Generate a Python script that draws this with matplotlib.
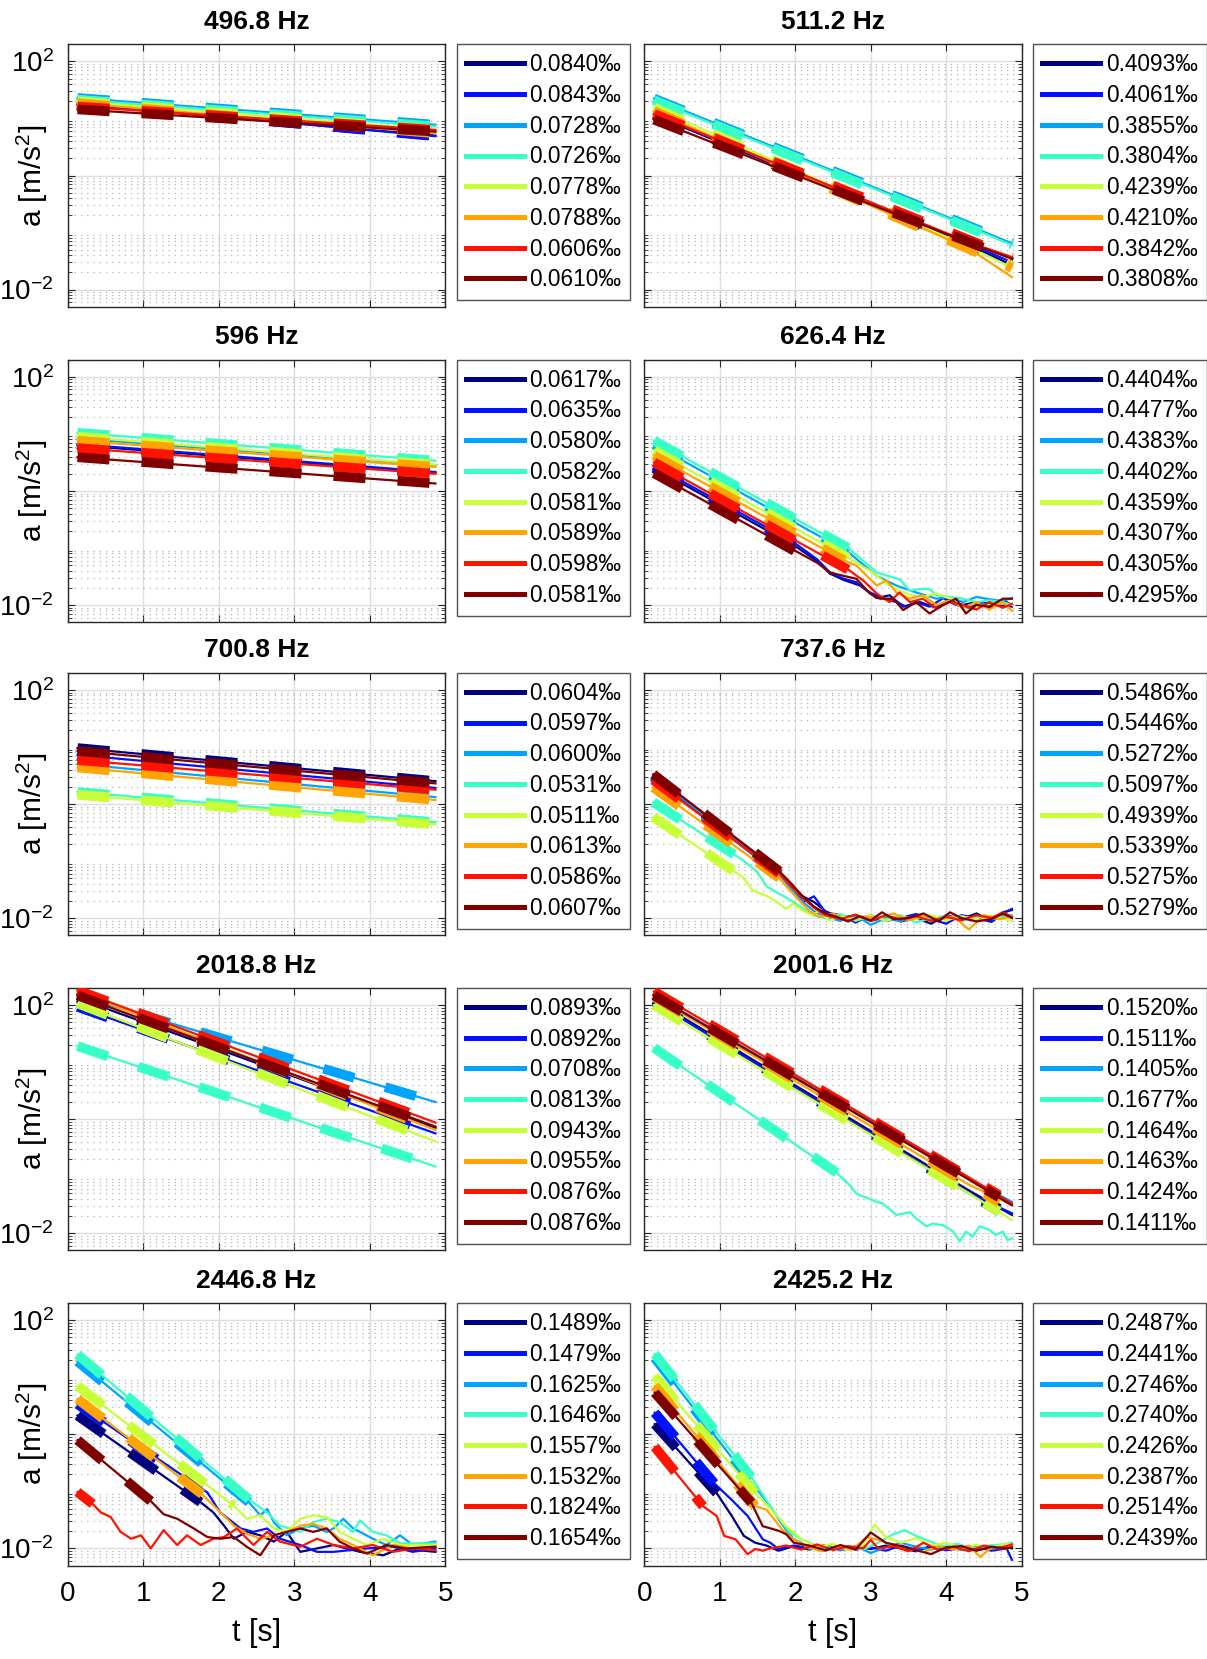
import numpy as np
import matplotlib
matplotlib.use('Agg')
import matplotlib.pyplot as plt
from matplotlib.lines import Line2D
from matplotlib.ticker import LogLocator, NullFormatter

plt.rcParams['font.family'] = ['Liberation Sans', 'DejaVu Sans']
plt.rcParams['mathtext.fontset'] = 'custom'
plt.rcParams['mathtext.rm'] = 'Liberation Sans'
plt.rcParams['mathtext.it'] = 'Liberation Sans:italic'
plt.rcParams['mathtext.bf'] = 'Liberation Sans:bold'

# ---------------- data (amplitudes stored as log10(a), a in m/s^2) ----------------
# series order in every panel: navy, blue, light blue, aqua, yellow, orange, red, dark red
titles = ['496.8 Hz', '511.2 Hz', '596 Hz', '626.4 Hz', '700.8 Hz',
          '737.6 Hz', '2018.8 Hz', '2001.6 Hz', '2446.8 Hz', '2425.2 Hz']

lab_4968 = ['0.0840‰', '0.0843‰', '0.0728‰', '0.0726‰', '0.0778‰', '0.0788‰', '0.0606‰', '0.0610‰']
lab_5112 = ['0.4093‰', '0.4061‰', '0.3855‰', '0.3804‰', '0.4239‰', '0.4210‰', '0.3842‰', '0.3808‰']
lab_596 = ['0.0617‰', '0.0635‰', '0.0580‰', '0.0582‰', '0.0581‰', '0.0589‰', '0.0598‰', '0.0581‰']
lab_6264 = ['0.4404‰', '0.4477‰', '0.4383‰', '0.4402‰', '0.4359‰', '0.4307‰', '0.4305‰', '0.4295‰']
lab_7008 = ['0.0604‰', '0.0597‰', '0.0600‰', '0.0531‰', '0.0511‰', '0.0613‰', '0.0586‰', '0.0607‰']
lab_7376 = ['0.5486‰', '0.5446‰', '0.5272‰', '0.5097‰', '0.4939‰', '0.5339‰', '0.5275‰', '0.5279‰']
lab_20188 = ['0.0893‰', '0.0892‰', '0.0708‰', '0.0813‰', '0.0943‰', '0.0955‰', '0.0876‰', '0.0876‰']
lab_20016 = ['0.1520‰', '0.1511‰', '0.1405‰', '0.1677‰', '0.1464‰', '0.1463‰', '0.1424‰', '0.1411‰']
lab_24468 = ['0.1489‰', '0.1479‰', '0.1625‰', '0.1646‰', '0.1557‰', '0.1532‰', '0.1824‰', '0.1654‰']
lab_24252 = ['0.2487‰', '0.2441‰', '0.2746‰', '0.2740‰', '0.2426‰', '0.2387‰', '0.2514‰', '0.2439‰']

# 496.8 Hz
t_4968 = [[0.13, 4.87]] * 8
lg_4968 = [[1.25, 0.70], [1.26, 0.69], [1.36, 0.89], [1.33, 0.86],
           [1.30, 0.80], [1.27, 0.74], [1.21, 0.80], [1.16, 0.77]]
fit_t_4968 = [4.87] * 8
fit_lg_4968 = [0.70, 0.69, 0.89, 0.86, 0.80, 0.74, 0.80, 0.77]

# 511.2 Hz
t_5112 = [[0.13, 4.3, 4.87]] * 8
lg_5112 = [[1.06, -1.22, -1.57], [1.08, -1.20, -1.52], [1.35, -0.88, -1.19], [1.32, -0.90, -1.22],
           [1.19, -1.25, -1.62], [1.13, -1.28, -1.78], [1.08, -1.17, -1.43], [0.98, -1.18, -1.46]]
fit_t_5112 = [4.87] * 8
fit_lg_5112 = [-1.53, -1.51, -1.19, -1.22, -1.58, -1.62, -1.43, -1.46]

# 596 Hz
t_596 = [[0.13, 4.87]] * 8
lg_596 = [[0.80, 0.32], [0.82, 0.33], [0.92, 0.45], [1.02, 0.53],
          [0.95, 0.46], [0.88, 0.42], [0.75, 0.30], [0.59, 0.13]]
fit_t_596 = [4.87] * 8
fit_lg_596 = [0.32, 0.33, 0.45, 0.53, 0.46, 0.42, 0.30, 0.13]

# 626.4 Hz
t_6264 = [
    [0.13, 1.98, 2.29, 2.46, 2.64, 2.86, 3.08, 3.25, 3.43, 3.65, 3.87, 4.04, 4.22, 4.40, 4.57, 4.75, 4.87],
    [0.13, 1.98, 2.29, 2.46, 2.64, 2.81, 2.99, 3.16, 3.34, 3.47, 3.60, 3.78, 3.96, 4.13, 4.31, 4.48, 4.66, 4.87],
    [0.13, 2.70, 3.08, 3.34, 3.60, 3.87, 4.04, 4.22, 4.40, 4.57, 4.75, 4.87],
    [0.13, 2.70, 3.08, 3.38, 3.52, 3.65, 3.78, 3.87, 4.04, 4.22, 4.40, 4.57, 4.75, 4.87],
    [0.13, 2.70, 2.99, 3.25, 3.52, 3.69, 3.87, 4.13, 4.26, 4.40, 4.57, 4.75, 4.87],
    [0.13, 2.65, 2.81, 3.08, 3.21, 3.34, 3.52, 3.69, 3.87, 4.04, 4.22, 4.40, 4.57, 4.75, 4.87],
    [0.13, 2.70, 2.90, 3.08, 3.25, 3.38, 3.52, 3.69, 3.87, 4.04, 4.22, 4.40, 4.57, 4.75, 4.87],
    [0.13, 2.11, 2.29, 2.46, 2.64, 2.81, 2.99, 3.12, 3.30, 3.43, 3.60, 3.78, 3.96, 4.13, 4.26, 4.40, 4.57, 4.75, 4.87],
]
lg_6264 = [
    [0.40, -0.95, -1.23, -1.45, -1.56, -1.66, -1.88, -1.83, -2.03, -1.95, -2.05, -1.90, -2.00, -1.95, -2.05, -1.92, -2.00],
    [0.44, -0.90, -1.20, -1.43, -1.54, -1.60, -1.78, -1.88, -1.95, -2.03, -1.95, -2.03, -1.88, -2.00, -2.05, -1.95, -2.00, -2.03],
    [0.81, -1.07, -1.49, -1.66, -1.78, -1.89, -1.86, -1.95, -1.86, -1.90, -1.93, -1.88],
    [0.88, -1.00, -1.43, -1.55, -1.75, -1.72, -1.72, -1.83, -1.86, -1.89, -1.95, -1.92, -1.95, -2.00],
    [0.71, -1.17, -1.40, -1.66, -1.83, -1.86, -1.80, -1.92, -2.12, -2.03, -2.00, -1.97, -2.00],
    [0.62, -1.22, -1.31, -1.66, -1.57, -1.78, -1.89, -1.83, -2.00, -1.92, -2.05, -1.95, -2.08, -1.95, -2.10],
    [0.50, -1.38, -1.57, -1.80, -1.95, -1.78, -1.95, -1.89, -2.06, -1.95, -2.00, -2.08, -1.95, -2.05, -1.98],
    [0.31, -1.13, -1.26, -1.43, -1.49, -1.54, -1.80, -1.89, -1.89, -2.09, -1.95, -2.15, -2.00, -1.89, -2.15, -2.00, -2.03, -1.89, -1.89],
]
fit_t_6264 = [2.2, 2.2, 2.7, 2.7, 2.7, 2.65, 2.7, 2.0]
fit_lg_6264 = [-1.11, -1.07, -1.07, -1.00, -1.17, -1.22, -1.38, -1.06]

# 700.8 Hz
t_7008 = [[0.13, 4.87]] * 8
lg_7008 = [[0.98, 0.40], [0.86, 0.28], [0.70, 0.12], [0.21, -0.32],
           [0.16, -0.36], [0.64, 0.07], [0.77, 0.25], [0.93, 0.36]]
fit_t_7008 = [4.87] * 8
fit_lg_7008 = [0.40, 0.28, 0.12, -0.32, -0.36, 0.07, 0.25, 0.36]

# 737.6 Hz
t_7376 = [
    [0.12, 1.79, 1.95, 2.1, 2.25, 2.4, 2.6, 2.8, 3.0, 3.2, 3.4, 3.6, 3.8, 4.0, 4.2, 4.4, 4.6, 4.75, 4.87],
    [0.12, 1.79, 1.95, 2.1, 2.25, 2.4, 2.6, 2.8, 3.0, 3.2, 3.4, 3.6, 3.8, 4.0, 4.2, 4.4, 4.6, 4.75, 4.87],
    [0.12, 1.79, 1.95, 2.1, 2.25, 2.4, 2.6, 2.8, 3.0, 3.2, 3.4, 3.6, 3.8, 4.0, 4.2, 4.4, 4.6, 4.87],
    [0.12, 1.3, 1.49, 1.62, 1.75, 1.88, 2.01, 2.14, 2.23, 2.4, 2.6, 2.8, 3.0, 3.2, 3.4, 3.6, 3.8, 4.0, 4.2, 4.4, 4.6, 4.87],
    [0.12, 1.3, 1.44, 1.62, 1.79, 1.88, 1.97, 2.10, 2.23, 2.32, 2.45, 2.6, 2.8, 3.0, 3.2, 3.4, 3.6, 3.8, 4.0, 4.2, 4.4, 4.6, 4.87],
    [0.12, 1.79, 1.92, 2.06, 2.19, 2.32, 2.5, 2.7, 2.9, 3.1, 3.3, 3.5, 3.7, 3.9, 4.1, 4.3, 4.5, 4.7, 4.87],
    [0.12, 1.79, 1.95, 2.1, 2.25, 2.4, 2.6, 2.8, 3.0, 3.2, 3.4, 3.6, 3.8, 4.0, 4.2, 4.4, 4.6, 4.75, 4.87],
    [0.12, 1.79, 1.95, 2.1, 2.25, 2.4, 2.55, 2.7, 2.85, 3.0, 3.15, 3.3, 3.5, 3.7, 3.9, 4.05, 4.2, 4.4, 4.6, 4.75, 4.87],
]
lg_7376 = [
    [0.50, -1.22, -1.45, -1.62, -1.72, -1.88, -2.0, -1.95, -2.05, -1.98, -2.06, -2.0, -2.1, -1.95, -2.02, -1.92, -2.05, -1.9, -1.86],
    [0.47, -1.25, -1.40, -1.72, -1.62, -1.90, -1.95, -2.08, -1.95, -2.05, -2.0, -1.93, -2.02, -2.1, -1.95, -2.0, -2.07, -1.92, -1.84],
    [0.50, -1.24, -1.50, -1.72, -1.88, -1.98, -2.05, -1.95, -2.12, -2.0, -2.06, -1.96, -2.04, -2.0, -1.96, -2.05, -1.98, -1.95],
    [0.03, -0.98, -1.18, -1.44, -1.55, -1.64, -1.75, -1.87, -1.95, -2.0, -1.93, -2.05, -1.97, -2.02, -1.95, -2.08, -2.0, -1.96, -2.05, -1.98, -2.02, -1.95],
    [-0.23, -1.28, -1.52, -1.61, -1.75, -1.84, -1.75, -1.87, -1.95, -1.87, -2.04, -1.97, -2.03, -1.95, -2.05, -1.98, -2.02, -1.95, -2.04, -1.97, -2.02, -1.96, -2.05],
    [0.29, -1.30, -1.50, -1.70, -1.88, -1.98, -1.92, -2.06, -1.97, -2.0, -1.92, -2.04, -1.96, -2.02, -1.98, -2.2, -1.95, -2.02, -1.97],
    [0.42, -1.22, -1.45, -1.65, -1.82, -1.95, -2.02, -1.94, -2.05, -1.95, -2.03, -1.97, -2.05, -1.98, -2.04, -1.95, -2.0, -1.9, -1.98],
    [0.52, -1.18, -1.40, -1.62, -1.80, -1.92, -1.98, -2.06, -1.97, -2.04, -1.90, -2.02, -2.0, -1.92, -2.06, -1.9, -2.0, -2.06, -2.02, -1.92, -2.0],
]
fit_t_7376 = [1.79, 1.79, 1.79, 1.3, 1.3, 1.79, 1.79, 1.79]
fit_lg_7376 = [-1.22, -1.25, -1.24, -0.98, -1.28, -1.30, -1.22, -1.18]

# 2018.8 Hz
t_20188 = [[0.13, 4.87]] * 8
lg_20188 = [[2.12, -0.15], [1.97, -0.25], [2.17, 0.30], [1.28, -0.83],
            [2.03, -0.39], [2.24, -0.19], [2.26, -0.06], [2.17, -0.13]]
fit_t_20188 = [4.87] * 8
fit_lg_20188 = [-0.15, -0.25, 0.30, -0.83, -0.39, -0.19, -0.06, -0.13]

# 2001.6 Hz
t_20016 = [
    [0.13, 4.3, 4.87], [0.13, 4.3, 4.87], [0.13, 4.3, 4.87],
    [0.13, 2.55, 2.73, 2.81, 2.99, 3.08, 3.16, 3.34, 3.52, 3.60, 3.74, 3.82, 3.96, 4.09, 4.18, 4.26, 4.35, 4.44, 4.57, 4.66, 4.75, 4.81, 4.87],
    [0.13, 4.3, 4.87], [0.13, 4.3, 4.87], [0.13, 4.3, 4.87], [0.13, 4.3, 4.87],
]
lg_20016 = [
    [2.09, -1.25, -1.68], [2.06, -1.30, -1.65], [2.18, -1.04, -1.45],
    [1.25, -0.94, -1.17, -1.31, -1.40, -1.45, -1.48, -1.68, -1.63, -1.74, -1.88, -1.83, -1.86, -1.97, -2.14, -1.97, -2.06, -1.88, -1.94, -2.03, -1.97, -2.12, -2.09],
    [2.00, -1.30, -1.77], [2.15, -1.15, -1.50], [2.24, -1.02, -1.48], [2.17, -1.06, -1.51],
]
fit_t_20016 = [4.7, 4.7, 4.7, 2.55, 4.7, 4.7, 4.7, 4.7]
fit_lg_20016 = [-1.57, -1.62, -1.35, -0.94, -1.62, -1.46, -1.33, -1.37]

# 2446.8 Hz
t_24468 = [
    [0.13, 1.76, 1.93, 2.07, 2.20, 2.37, 2.55, 2.73, 2.90, 3.08, 3.30, 3.52, 3.87, 4.18, 4.40, 4.87],
    [0.13, 1.85, 2.02, 2.29, 2.46, 2.64, 2.81, 3.08, 3.30, 3.52, 3.96, 4.31, 4.57, 4.87],
    [0.13, 2.40, 2.55, 2.64, 2.73, 2.90, 3.08, 3.25, 3.43, 3.52, 3.65, 3.78, 3.87, 4.04, 4.22, 4.40, 4.57, 4.87],
    [0.13, 2.40, 2.64, 2.81, 3.08, 3.25, 3.43, 3.60, 3.78, 3.87, 4.04, 4.22, 4.40, 4.87],
    [0.13, 2.20, 2.37, 2.55, 2.73, 2.90, 3.08, 3.25, 3.43, 3.60, 3.78, 3.96, 4.18, 4.40, 4.87],
    [0.13, 1.78, 1.98, 2.20, 2.37, 2.55, 2.73, 2.90, 3.08, 3.25, 3.43, 3.60, 3.78, 4.04, 4.31, 4.57, 4.87],
    [0.13, 0.33, 0.44, 0.57, 0.70, 0.84, 0.97, 1.10, 1.27, 1.45, 1.58, 1.76, 1.93, 2.07, 2.24, 2.46, 2.64, 2.81, 3.08, 3.30, 3.52, 3.78, 4.04, 4.31, 4.57, 4.87],
    [0.13, 1.10, 1.27, 1.45, 1.67, 1.85, 2.02, 2.20, 2.37, 2.55, 2.73, 2.90, 3.08, 3.25, 3.43, 3.60, 3.78, 3.96, 4.22, 4.48, 4.87],
]
lg_24468 = [
    [0.33, -1.19, -1.37, -1.60, -1.83, -1.71, -1.77, -1.88, -1.71, -2.06, -2.0, -1.94, -2.06, -2.12, -2.0, -2.06],
    [0.53, -1.02, -1.37, -1.65, -1.71, -1.65, -1.83, -1.94, -2.06, -2.06, -2.0, -1.97, -2.06, -2.0],
    [1.28, -1.19, -1.42, -1.31, -1.54, -1.77, -1.65, -1.60, -1.71, -1.65, -1.48, -1.65, -1.71, -1.83, -1.94, -1.77, -1.94, -1.88],
    [1.40, -1.14, -1.37, -1.60, -1.71, -1.54, -1.48, -1.54, -1.71, -1.51, -1.71, -1.77, -1.91, -1.91],
    [0.85, -1.25, -1.48, -1.42, -1.65, -1.71, -1.48, -1.42, -1.45, -1.71, -1.83, -1.94, -1.83, -1.94, -1.94],
    [0.62, -1.05, -1.31, -1.60, -1.74, -1.83, -1.77, -1.71, -1.60, -1.57, -1.65, -1.83, -1.94, -2.12, -1.94, -2.0, -1.97],
    [-1.01, -1.22, -1.37, -1.45, -1.71, -1.83, -1.77, -2.0, -1.68, -1.94, -1.77, -1.94, -1.83, -1.80, -1.65, -1.94, -1.71, -1.88, -1.97, -1.83, -1.94, -2.0, -1.94, -2.06, -2.0, -2.03],
    [-0.10, -1.17, -1.40, -1.48, -1.65, -1.80, -1.83, -1.80, -1.97, -2.12, -1.77, -1.71, -1.65, -1.71, -1.65, -1.88, -2.0, -2.09, -1.94, -2.0, -1.97],
]
fit_t_24468 = [1.76, 1.76, 2.40, 2.40, 2.20, 1.78, 0.33, 1.10]
fit_lg_24468 = [-1.19, -0.97, -1.19, -1.14, -1.25, -1.05, -1.22, -1.17]

# 2425.2 Hz
t_24252 = [
    [0.14, 0.96, 1.16, 1.32, 1.47, 1.62, 1.78, 1.98, 2.19, 2.39, 2.6, 2.8, 3.0, 3.2, 3.4, 3.6, 3.8, 4.0, 4.2, 4.4, 4.6, 4.75, 4.87],
    [0.14, 0.93, 1.16, 1.37, 1.57, 1.67, 1.78, 1.98, 2.19, 2.39, 2.6, 2.8, 3.0, 3.2, 3.4, 3.6, 3.8, 4.0, 4.2, 4.4, 4.6, 4.8, 4.87],
    [0.14, 1.39, 1.57, 1.67, 1.78, 1.88, 1.98, 2.08, 2.19, 2.4, 2.6, 2.8, 3.0, 3.2, 3.4, 3.6, 3.8, 4.0, 4.2, 4.4, 4.6, 4.87],
    [0.14, 1.42, 1.67, 1.83, 1.93, 2.08, 2.29, 2.5, 2.7, 2.9, 3.1, 3.3, 3.45, 3.6, 3.75, 3.95, 4.15, 4.35, 4.55, 4.75, 4.87],
    [0.14, 1.47, 1.72, 1.88, 1.98, 2.08, 2.29, 2.5, 2.7, 2.9, 3.05, 3.2, 3.4, 3.6, 3.8, 4.0, 4.2, 4.4, 4.6, 4.8, 4.87],
    [0.14, 1.47, 1.62, 1.83, 1.98, 2.15, 2.35, 2.55, 2.75, 2.95, 3.1, 3.3, 3.5, 3.7, 3.9, 4.1, 4.3, 4.45, 4.6, 4.8, 4.87],
    [0.14, 0.78, 0.96, 1.06, 1.21, 1.37, 1.47, 1.57, 1.67, 1.88, 2.08, 2.29, 2.5, 2.7, 2.9, 3.0, 3.1, 3.3, 3.5, 3.7, 3.9, 4.1, 4.3, 4.5, 4.7, 4.87],
    [0.14, 1.42, 1.57, 1.78, 1.88, 1.98, 2.19, 2.4, 2.6, 2.8, 3.0, 3.2, 3.4, 3.6, 3.8, 4.0, 4.2, 4.4, 4.6, 4.8, 4.87],
]
lg_24252 = [
    [0.18, -1.03, -1.43, -1.78, -1.90, -1.95, -2.04, -1.96, -2.02, -1.94, -2.03, -1.97, -2.01, -1.95, -2.0, -2.05, -1.96, -2.02, -1.97, -2.03, -1.98, -1.95, -2.0],
    [0.38, -0.86, -1.15, -1.43, -1.84, -1.90, -2.01, -1.95, -1.99, -2.04, -1.96, -2.02, -1.98, -2.04, -1.95, -2.02, -1.97, -2.03, -2.0, -1.96, -2.04, -2.0, -2.2],
    [1.34, -0.80, -1.09, -1.26, -1.49, -1.67, -1.84, -1.90, -2.01, -1.95, -2.03, -1.96, -2.08, -1.98, -1.9, -1.97, -2.02, -1.96, -2.03, -1.98, -2.01, -1.95],
    [1.41, -0.75, -1.26, -1.55, -1.72, -1.84, -1.95, -2.0, -1.96, -2.02, -1.9, -1.75, -1.68, -1.78, -1.86, -1.96, -1.92, -2.0, -1.95, -1.93, -1.9],
    [1.02, -1.03, -1.38, -1.61, -1.72, -1.84, -1.97, -1.92, -2.03, -1.95, -1.58, -1.8, -1.9, -1.82, -1.95, -1.9, -2.0, -1.94, -1.98, -1.92, -1.94],
    [0.85, -1.26, -1.32, -1.67, -1.84, -1.97, -2.05, -1.96, -2.02, -1.8, -1.85, -1.95, -2.0, -2.06, -1.96, -2.02, -1.95, -2.15, -1.98, -2.0, -1.96],
    [-0.22, -1.26, -1.43, -1.78, -1.84, -2.10, -2.01, -2.04, -2.0, -1.95, -2.02, -1.93, -2.03, -1.96, -2.0, -1.85, -2.0, -1.96, -2.05, -1.9, -2.03, -1.97, -2.05, -1.95, -2.0, -1.93],
    [0.73, -1.20, -1.61, -1.69, -1.75, -1.90, -1.95, -2.03, -1.94, -2.02, -1.72, -1.9, -1.96, -2.03, -2.1, -1.98, -1.96, -2.04, -1.97, -2.0, -1.98],
]
fit_t_24252 = [0.96, 0.93, 1.39, 1.42, 1.47, 1.47, 0.78, 1.42]
fit_lg_24252 = [-1.03, -0.86, -0.80, -0.75, -1.03, -1.26, -1.26, -1.20]

labels = [lab_4968, lab_5112, lab_596, lab_6264, lab_7008,
          lab_7376, lab_20188, lab_20016, lab_24468, lab_24252]
times = [t_4968, t_5112, t_596, t_6264, t_7008, t_7376, t_20188, t_20016, t_24468, t_24252]
logs = [lg_4968, lg_5112, lg_596, lg_6264, lg_7008, lg_7376, lg_20188, lg_20016, lg_24468, lg_24252]
fit_ts = [fit_t_4968, fit_t_5112, fit_t_596, fit_t_6264, fit_t_7008,
          fit_t_7376, fit_t_20188, fit_t_20016, fit_t_24468, fit_t_24252]
fit_lgs = [fit_lg_4968, fit_lg_5112, fit_lg_596, fit_lg_6264, fit_lg_7008,
           fit_lg_7376, fit_lg_20188, fit_lg_20016, fit_lg_24468, fit_lg_24252]


def matlab_jet(x):
    # MATLAB style jet colormap
    r = np.clip(np.minimum(4 * x - 1.5, -4 * x + 4.5), 0, 1)
    g = np.clip(np.minimum(4 * x - 0.5, -4 * x + 3.5), 0, 1)
    b = np.clip(np.minimum(4 * x + 0.5, -4 * x + 2.5), 0, 1)
    return np.column_stack([r, g, b])


colors = matlab_jet(np.linspace(0, 1, 8))

# ---------------- figure ----------------
fig = plt.figure(figsize=(12.07, 16.59), dpi=100)
lefts = [0.0561, 0.5337]
bottoms = [0.8151, 0.6250, 0.4363, 0.2463, 0.0563]
w, h = 0.3128, 0.1582

for i in range(10):
    row, col = i // 2, i % 2
    ax = fig.add_axes([lefts[col], bottoms[row], w, h])
    ax.set_yscale('log')

    for k in range(8):
        t = np.array(times[i][k])
        a = 10 ** np.array(logs[i][k])
        ax.plot(t, a, color=colors[k], lw=1.6, zorder=3 + 2 * k)
        ax.plot([t[0], fit_ts[i][k]], [a[0], 10 ** fit_lgs[i][k]], color=colors[k],
                lw=7, ls=(0, (3.3, 3.3)), zorder=4 + 2 * k)

    ax.set_xlim(0, 5)
    ax.set_ylim(5e-3, 2e2)
    ax.set_xticks(range(6))
    ax.set_yticks([1e-2, 1, 1e2])
    ax.yaxis.set_minor_locator(LogLocator(base=10, subs=np.arange(2, 10) * 1.0, numticks=20))
    ax.yaxis.set_minor_formatter(NullFormatter())
    ax.grid(True, which='major', color='#dedede', lw=1.0)
    ax.grid(True, which='minor', axis='y', color='#b4b4b4', ls=(0, (1, 4)), lw=0.9)
    ax.set_axisbelow(True)
    ax.tick_params(which='both', direction='in', top=True, right=True, labelsize=20,
                   color='#262626')
    ax.tick_params(which='major', length=5)
    ax.tick_params(which='minor', length=3)
    ax.tick_params(axis='y', pad=10)
    ax.tick_params(axis='x', pad=11)
    for sp in ax.spines.values():
        sp.set_color('#262626')
        sp.set_linewidth(1.0)

    if col == 0:
        ax.set_yticklabels(['$10^{-2}$', '', '$10^{2}$'])
        ax.set_ylabel('a [m/s$^{2}$]', fontsize=21.5)
        ax.yaxis.set_label_coords(-0.047, 0.5)
    else:
        ax.set_yticklabels([])
    if row == 4:
        ax.set_xlabel('t [s]', fontsize=22, labelpad=8)
    else:
        ax.set_xticklabels([])

    ax.set_title(titles[i], fontsize=19, fontweight='bold', pad=11)

    handles = [Line2D([], [], color=c, lw=3.6) for c in colors]
    leg = ax.legend(handles, labels[i], loc='upper left', bbox_to_anchor=(1.031, 1.0),
                    borderaxespad=0, fontsize=16.3, frameon=True, fancybox=False,
                    edgecolor='#262626', handlelength=2.55, handletextpad=0.24,
                    labelspacing=0.34, borderpad=0.4)
    leg.get_frame().set_linewidth(1.0)

fig.savefig('out.png', dpi=100)
